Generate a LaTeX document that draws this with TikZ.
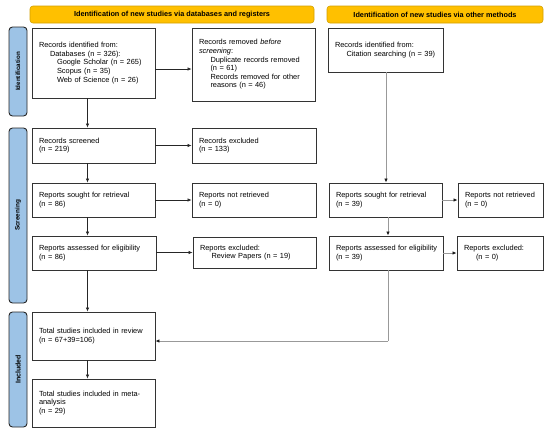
\documentclass[tikz,border=0pt]{standalone}
\usepackage{fontspec}
\setmainfont{Liberation Sans}
\usetikzlibrary{arrows.meta}
\begin{document}
\begin{tikzpicture}[x=1pt,y=-1pt,
  box/.style={draw=black!80,line width=0.9pt,fill=white,align=left,inner xsep=7pt,inner ysep=2pt,
    font=\fontsize{7.4}{8.6}\selectfont,rectangle},
  banner/.style={draw={rgb,255:red,210;green,160;blue,0},line width=0.6pt,fill={rgb,255:red,255;green,192;blue,0},
    rounded corners=3pt,font=\bfseries\fontsize{7.3}{8}\selectfont,inner sep=0pt},
  side/.style={draw=black!85,line width=0.9pt,fill={rgb,255:red,157;green,195;blue,230},
    rounded corners=3.5pt,inner sep=0pt},
  sidetext/.style={rotate=90,font=\bfseries\fontsize{#1}{7.5}\selectfont},
  arr/.style={-{Latex[length=4pt,width=3.5pt]},line width=0.6pt,draw=black!85},
  garr/.style={-{Latex[length=4pt,width=3.5pt,color=black!90]},line width=0.9pt,draw=black!40}]
\useasboundingbox (0,0) rectangle (550,432);
% banners
\node[banner,minimum width=284pt,minimum height=17pt] (bl) at (172,14.5) {Identification of new studies via databases and registers};
\node[banner,minimum width=216pt,minimum height=17pt] (br) at (435,14.5) {Identification of new studies via other methods};
% side bars
\node[side,minimum width=18pt,minimum height=89pt] (s1) at (18,71.5) {};
\node[sidetext=6.2] at (s1) {Identification};
\node[side,minimum width=18pt,minimum height=175pt] (s2) at (18,215.5) {};
\node[sidetext=6.4] at (s2) {Screening};
\node[side,minimum width=18pt,minimum height=115pt] (s3) at (18,369.5) {};
\node[sidetext=7] at (s3) {Included};
% boxes
\node[box,minimum width=123pt,minimum height=70pt,text width=109pt] (A) at (93.5,63) {Records identified from:\\
\hspace*{11pt}Databases (n = 326):\\
\hspace*{18pt}Google Scholar (n = 265)\\
\hspace*{18pt}Scopus (n = 35)\\
\hspace*{18pt}Web of Science (n = 26)};
\node[box,minimum width=123pt,minimum height=73pt,text width=109pt] (B) at (253.5,64.5) {Records removed \emph{before}\\
\emph{screening}:\\
\hspace*{11.5pt}\mbox{Duplicate records removed}\\
\hspace*{11.5pt}(n = 61)\\
\hspace*{11.5pt}\mbox{Records removed for other}\\
\hspace*{11.5pt}reasons (n = 46)};
\node[box,minimum width=115pt,minimum height=44pt,text width=101pt] (C) at (385.5,50) {Records identified from:\\
\hspace*{11.5pt}\mbox{Citation searching (n = 39)}};
\node[box,minimum width=123pt,minimum height=35pt,text width=109pt] (D) at (93.5,145.5) {Records screened\\(n = 219)};
\node[box,minimum width=124pt,minimum height=35pt,text width=110pt] (E) at (254,145.5) {Records excluded\\(n = 133)};
\node[box,minimum width=123pt,minimum height=34pt,text width=109pt] (F) at (93.5,200) {Reports sought for retrieval\\(n = 86)};
\node[box,minimum width=124pt,minimum height=34pt,text width=110pt] (G) at (254,200) {Reports not retrieved\\(n = 0)};
\node[box,minimum width=124pt,minimum height=34pt,text width=110pt] (H) at (94,253) {\mbox{Reports assessed for eligibility}\\(n = 86)};
\node[box,minimum width=123pt,minimum height=31pt,text width=109pt] (I) at (254.5,252.5) {Reports excluded:\\
\hspace*{11.5pt}\mbox{Review Papers (n = 19)}};
\node[box,minimum width=113pt,minimum height=34pt,text width=99pt] (J) at (385.5,200) {\mbox{Reports sought for retrieval}\\(n = 39)};
\node[box,minimum width=85pt,minimum height=34pt,text width=71pt] (K) at (500.5,200) {\mbox{Reports not retrieved}\\(n = 0)};
\node[box,minimum width=114pt,minimum height=34pt,text width=100pt] (L) at (386,253) {\mbox{Reports assessed for eligibility}\\(n = 39)};
\node[box,minimum width=86pt,minimum height=34pt,text width=72pt] (M) at (500,253) {Reports excluded:\\
\hspace*{12pt}(n = 0)};
\node[box,minimum width=123pt,minimum height=48pt,text width=109pt] (N) at (93.5,336) {\mbox{Total studies included in review}\\(n = 67+39=106)};
\node[box,minimum width=123pt,minimum height=48pt,text width=109pt] (O) at (93.5,403) {\mbox{Total studies included in meta-}\\analysis\\(n = 29)};
% column coordinates
\coordinate (cx) at (87.5,0);
\coordinate (rx) at (388,0);
\coordinate (jn) at (388,341);
% vertical arrows left
\draw[arr] (A.south -| cx) -- (D.north -| cx);
\draw[arr] (D.south -| cx) -- (F.north -| cx);
\draw[arr] (F.south -| cx) -- (H.north -| cx);
\draw[arr] (H.south -| cx) -- (N.north -| cx);
\draw[arr] (N.south -| cx) -- (O.north -| cx);
% horizontal arrows left
\coordinate (y1) at (0,69);
\draw[arr] (A.east |- y1) -- (B.west |- y1);
\draw[arr] (D) -- (E);
\draw[arr] (F) -- (G);
\draw[arr] (H.east |- I.west) -- (I.west);
% right column
\draw[garr] (C.south -| 386,0) -- (J.north -| 386,0);
\draw[garr] (J.south -| rx) -- (L.north -| rx);
\draw[garr] (J) -- (K);
\draw[garr] (L.east |- M.west) -- (M.west);
\draw[line width=0.9pt,draw=black!40] (L.south -| rx) -- (jn);
\draw[garr] (jn) -- (N.east |- jn);
\end{tikzpicture}
\end{document}
